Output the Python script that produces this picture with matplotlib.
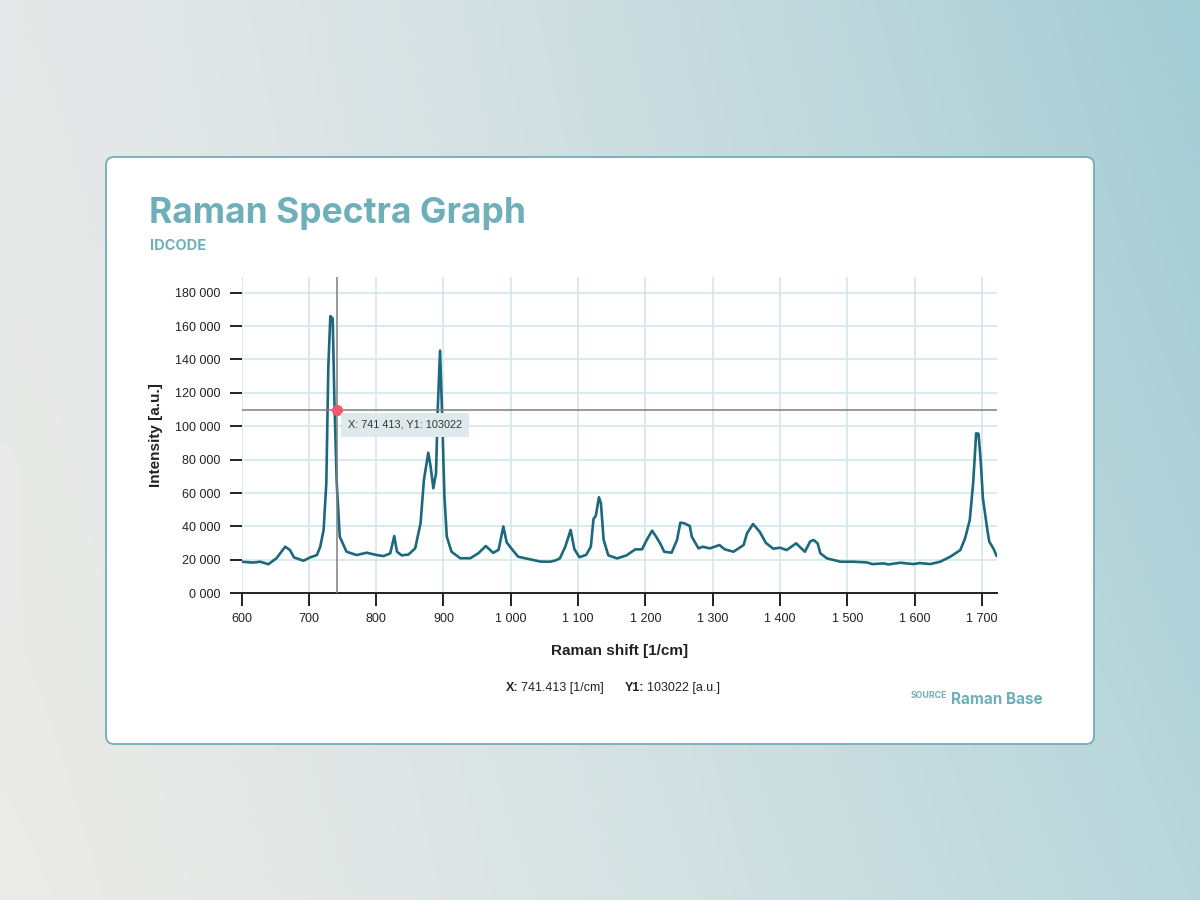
import numpy as np
import matplotlib
matplotlib.use('Agg')
import matplotlib.pyplot as plt
from matplotlib.patches import FancyBboxPatch
from matplotlib.ticker import FuncFormatter, MultipleLocator

# Raman shift [1/cm] and intensity [thousands a.u.]
shift = [600, 617, 628, 640, 652, 665, 672, 678, 692, 702, 712, 717, 722, 726, 729, 732,
         735.5, 738, 741.5, 746, 756, 771, 786, 801, 811, 821, 827, 831, 838, 848, 858,
         866, 871, 877.5, 881, 885, 889, 891.5, 895, 898, 901.5, 905, 912, 925, 940, 952,
         963, 974, 982, 989, 994, 1001, 1011, 1029, 1044, 1058, 1066, 1073, 1081, 1089,
         1094.5, 1102, 1112, 1119, 1123, 1126.5, 1131, 1134, 1138, 1145, 1158, 1172, 1185,
         1195, 1202, 1210, 1216, 1222, 1228, 1239, 1247, 1252, 1258, 1266, 1269, 1279,
         1285, 1296, 1310, 1318, 1331, 1346, 1351, 1360, 1370, 1379, 1390, 1400, 1410,
         1424, 1437, 1445, 1450, 1456, 1460, 1470, 1490, 1509, 1529, 1537, 1554, 1561,
         1579, 1598, 1608, 1623, 1638, 1653, 1668, 1675, 1682, 1687, 1691.5, 1695, 1698.5,
         1701.5, 1705, 1708.5, 1711, 1717, 1722]
intensity_k = [18.9, 18.4, 18.9, 17.4, 21.0, 27.9, 25.9, 21.5, 19.5, 21.5, 22.9, 27.9, 37.9,
               65.9, 135.7, 166.0, 164.5, 115.8, 65.9, 33.9, 24.9, 22.9, 24.3, 22.9, 22.3,
               23.9, 34.3, 24.9, 22.7, 23.2, 26.9, 41.9, 67.8, 84.2, 75.8, 62.9, 71.9, 109.8,
               145.3, 107.8, 57.8, 33.9, 24.9, 21.0, 21.0, 24.0, 28.3, 24.2, 26.1, 40.0, 30.5,
               26.8, 21.9, 20.3, 19.0, 18.9, 19.6, 20.9, 27.9, 37.9, 26.5, 21.6, 23.0, 27.9,
               44.5, 46.5, 57.5, 54.0, 32.0, 22.7, 20.9, 22.7, 26.3, 26.3, 31.9, 37.5, 33.9,
               29.9, 24.9, 24.3, 31.9, 42.3, 41.9, 40.3, 33.9, 26.9, 27.9, 26.9, 28.9, 26.3,
               24.9, 28.9, 35.9, 41.5, 36.8, 30.2, 26.7, 27.3, 25.9, 29.9, 24.9, 31.1, 31.9,
               29.9, 23.9, 20.9, 18.9, 18.9, 18.5, 17.5, 17.9, 17.3, 18.3, 17.5, 18.1, 17.5,
               18.9, 21.9, 25.9, 32.9, 43.9, 65.9, 95.8, 95.5, 77.8, 56.9, 46.9, 36.9, 30.9,
               26.9, 22.3]

# cursor readout
cursor_x = 741.413
cursor_y = 110000
cursor_label_x = '741 413'
cursor_label_y = '103022'
footer_x = '741.413'

x_ticks = [600, 700, 800, 900, 1000, 1100, 1200, 1300, 1400, 1500, 1600, 1700]

TEAL = '#6fafba'
LINE = '#1c687d'
GRID = '#d6e9eb'
DARK = '#222222'


def thousands(v, pos=None):
    v = int(round(v))
    if v == 0:
        return '0 000'
    return f'{v:,}'.replace(',', ' ')


fig = plt.figure(figsize=(12, 9), dpi=100)

# background in pixel coordinates
bg = fig.add_axes([0, 0, 1, 1], zorder=-10)
bg.set_xlim(0, 1200)
bg.set_ylim(900, 0)
bg.axis('off')
tl = np.array([0.90, 0.91, 0.91])
tr = np.array([0.64, 0.80, 0.83])
bl = np.array([0.92, 0.92, 0.91])
br = np.array([0.72, 0.84, 0.86])
u = np.linspace(0, 1, 240)[None, :, None] ** 1.4
w = np.linspace(0, 1, 180)[:, None, None]
grad = (1 - w) * ((1 - u) * tl + u * tr) + w * ((1 - u) * bl + u * br)
bg.imshow(grad, extent=(0, 1200, 900, 0), aspect='auto', interpolation='bicubic')
card = FancyBboxPatch((106, 157), 988, 587, boxstyle='round,pad=0,rounding_size=8',
                      facecolor='white', edgecolor=TEAL, linewidth=1.3)
bg.add_patch(card)

bg.text(149, 213, 'Raman Spectra Graph', fontsize=25.5, fontweight='bold', color=TEAL,
        family='Inter', va='center', ha='left')
bg.text(150, 246, 'IDCODE', fontsize=10.5, fontweight='bold', color=TEAL,
        family='Inter', va='center', ha='left')

# main chart
ax = fig.add_axes([241.5 / 1200, 1 - 593.3 / 900, 755.2 / 1200, 316.3 / 900])
intensity = [v * 1000 for v in intensity_k]
ax.plot(shift, intensity, color=LINE, linewidth=1.9, zorder=3,
        solid_joinstyle='round', solid_capstyle='round')
ax.set_xlim(600, 1722)
ax.set_ylim(0, 189400)
ax.set_xticks(x_ticks)
ax.yaxis.set_major_locator(MultipleLocator(20000))
ax.xaxis.set_major_formatter(FuncFormatter(thousands))
ax.yaxis.set_major_formatter(FuncFormatter(thousands))
ax.grid(True, color=GRID, linewidth=1.3, zorder=0)
ax.set_axisbelow(True)
for s in ['top', 'right', 'left']:
    ax.spines[s].set_visible(False)
ax.spines['bottom'].set_color(DARK)
ax.spines['bottom'].set_linewidth(1.4)
ax.tick_params(axis='both', length=9, width=1.4, color=DARK, labelsize=9,
               labelcolor=DARK, pad=6)
ax.tick_params(axis='x', pad=5)
for lab in ax.get_xticklabels() + ax.get_yticklabels():
    lab.set_family('Liberation Sans')

ax.set_xlabel('Raman shift [1/cm]', fontsize=11, fontweight='bold', family='Liberation Sans',
              color=DARK, labelpad=14)
ax.set_ylabel('Intensity [a.u.]', fontsize=11, fontweight='bold', family='Liberation Sans',
              color=DARK, labelpad=9)

# crosshair and tooltip
ax.axvline(cursor_x, color='#7f7f7f', linewidth=1.1, zorder=4)
ax.axhline(cursor_y, color='#7f7f7f', linewidth=1.1, zorder=4)
ax.plot([cursor_x], [cursor_y], 'o', color='#f05a6e', markersize=7, zorder=6)
ax.annotate(f'X: {cursor_label_x}, Y1: {cursor_label_y}', xy=(cursor_x, cursor_y),
            xytext=(11, -15), textcoords='offset pixels', ha='left', va='center',
            fontsize=7.8, color='#333333', family='Liberation Sans', zorder=7,
            bbox=dict(boxstyle='square,pad=0.65', facecolor='#dde9eb', edgecolor='none'))

# footer
bg.text(506, 688, 'X:', fontsize=9, fontweight='bold', color=DARK, family='Liberation Sans',
        va='center', ha='left')
bg.text(521, 688, f'{footer_x} [1/cm]', fontsize=9, color=DARK, family='Liberation Sans',
        va='center', ha='left')
bg.text(625, 688, 'Y1:', fontsize=9, fontweight='bold', color=DARK, family='Liberation Sans',
        va='center', ha='left')
bg.text(647, 688, f'{cursor_label_y} [a.u.]', fontsize=9, color=DARK, family='Liberation Sans',
        va='center', ha='left')
bg.text(911, 695, 'SOURCE', fontsize=6.3, fontweight='bold', color=TEAL, family='Inter',
        va='center', ha='left')
bg.text(951, 699, 'Raman Base', fontsize=11, fontweight='bold', color=TEAL, family='Inter',
        va='center', ha='left')

fig.savefig('out.png', dpi=100)
